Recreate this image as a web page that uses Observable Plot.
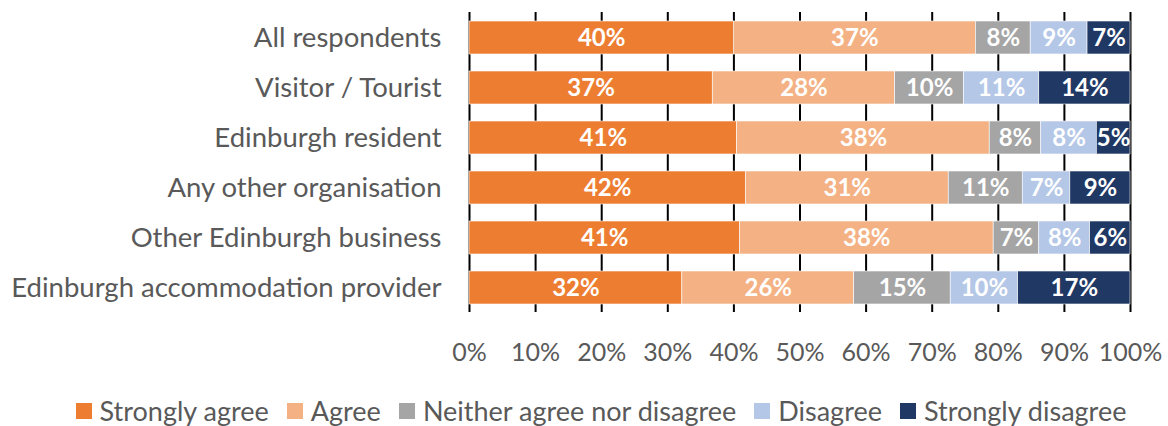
<!DOCTYPE html>
<html>
<head>
<meta charset="utf-8">
<script src="https://cdn.jsdelivr.net/npm/d3@7"></script>
<script src="https://cdn.jsdelivr.net/npm/@observablehq/plot@0.6"></script>
<style>
  html, body { margin: 0; padding: 0; background: #fff; }
  body { width: 1168px; height: 426px; overflow: hidden; font-family: Lato, "Liberation Sans", sans-serif; }
  #legend { display: flex; justify-content: center; align-items: center; margin-top: 22px; font-size: 27px; color: #595959; padding-left: 52px; }
  .item { display: flex; align-items: center; margin-right: 18px; }
  .sw { width: 16px; height: 16px; margin-right: 8px; }
</style>
</head>
<body>
<div id="chart"></div>
<div id="legend"></div>
<script>
const categories = ["All respondents", "Visitor / Tourist", "Edinburgh resident", "Any other organisation", "Other Edinburgh business", "Edinburgh accommodation provider"];
const seriesNames = ["Strongly agree", "Agree", "Neither agree nor disagree", "Disagree", "Strongly disagree"];
const seriesColors = ["#ED7D31", "#F4B183", "#A5A5A5", "#B4C7E7", "#203864"];
const stronglyAgree    = [40.0, 36.8, 40.5, 41.8, 40.9, 32.2];
const agree            = [36.6, 27.6, 38.2, 30.7, 38.4, 26.0];
const neither          = [8.3, 10.4, 7.8, 11.2, 6.9, 14.6];
const disagree         = [8.6, 11.4, 8.4, 7.2, 7.7, 10.2];
const stronglyDisagree = [6.5, 13.8, 5.1, 9.1, 6.1, 17.0];
const xTicks = [0, 10, 20, 30, 40, 50, 60, 70, 80, 90, 100];

const seriesValues = [stronglyAgree, agree, neither, disagree, stronglyDisagree];
const data = [];
categories.forEach((c, i) => {
  seriesNames.forEach((s, j) => {
    data.push({category: c, series: s, value: seriesValues[j][i]});
  });
});

const chart = Plot.plot({
  width: 1168,
  height: 372,
  marginLeft: 469,
  marginRight: 38,
  marginTop: 12,
  marginBottom: 60,
  style: {fontFamily: "Lato, sans-serif", background: "#fff"},
  x: {domain: [0, 100], ticks: xTicks, tickFormat: d => d + "%"},
  y: {domain: categories, paddingInner: 0.34, paddingOuter: 0.17},
  color: {domain: seriesNames, range: seriesColors},
  marks: [
    Plot.ruleX(xTicks, {stroke: "#000", strokeWidth: 2, strokeOpacity: 1}),
    Plot.barX(data, Plot.stackX({x: "value", y: "category", fill: "series", order: seriesNames, stroke: "#fff", strokeWidth: 0.6})),
    Plot.text(data, Plot.stackX({x: "value", y: "category", z: "series", order: seriesNames, text: d => Math.round(d.value) + "%", fill: "#fff", fontWeight: "bold", fontSize: 24})),
    Plot.axisX({ticks: xTicks, tickFormat: d => d + "%", tickSize: 0, tickPadding: 31, fontSize: 25, fill: "#595959", label: null}),
    Plot.axisY({tickSize: 0, tickPadding: 28, fontSize: 27.5, fill: "#595959", label: null})
  ]
});
document.getElementById("chart").appendChild(chart);

const legend = document.getElementById("legend");
seriesNames.forEach((s, i) => {
  const it = document.createElement("div");
  it.className = "item";
  const sw = document.createElement("div");
  sw.className = "sw";
  sw.style.background = seriesColors[i];
  const t = document.createElement("span");
  t.textContent = s;
  it.appendChild(sw);
  it.appendChild(t);
  legend.appendChild(it);
});
</script>
</body>
</html>
